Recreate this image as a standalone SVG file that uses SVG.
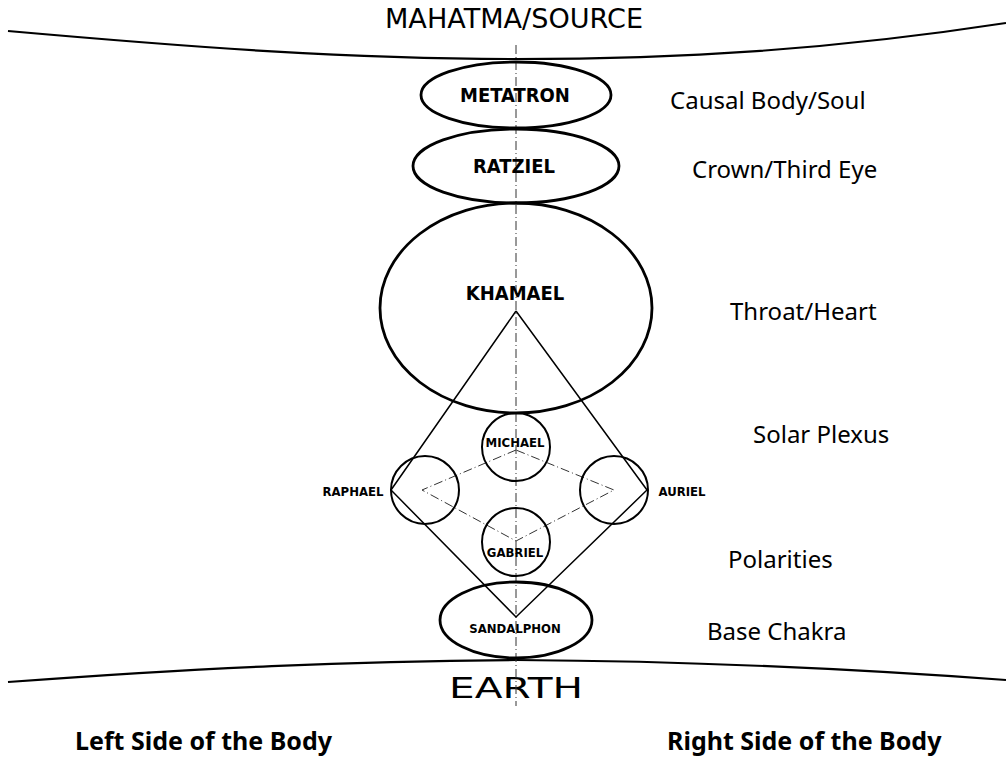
<svg xmlns="http://www.w3.org/2000/svg" width="1006" height="757" viewBox="0 0 1006 757">
<style>
.bg{fill:#fff}
.ell{fill:none;stroke:#000;stroke-width:2.8}
.cir{fill:none;stroke:#000;stroke-width:2}
.curve{fill:none;stroke:#000;stroke-width:2.2}
.edge{fill:none;stroke:#000;stroke-width:1.5}
.dd{fill:none;stroke:#333;stroke-width:1;stroke-dasharray:9 3 1 3}
.name{font-family:"DejaVu Sans Condensed","DejaVu Sans",sans-serif;font-weight:bold;fill:#000;text-anchor:middle}
.lbl{font-family:"Noto Sans","Liberation Sans",sans-serif;font-size:24px;fill:#000}
.big{font-family:"DejaVu Sans","Liberation Sans",sans-serif;fill:#000;text-anchor:middle}
.side{font-family:"Noto Sans","Liberation Sans",sans-serif;font-weight:bold;font-size:25px;fill:#000}
</style>
<rect class="bg" x="0" y="0" width="1006" height="757"/>
<g id="source">
<path class="curve" d="M8,31 C200,48 350,59 516,59 C680,59 830,50 1006,23"/>
<text class="big" x="514" y="28" font-size="27" textLength="258" lengthAdjust="spacingAndGlyphs">MAHATMA/SOURCE</text>
</g>
<g id="earth">
<path class="curve" d="M8,682 C200,668 350,661 516,660 C680,661 830,667 1006,680"/>
<text class="big" x="516" y="698" font-size="29" textLength="134" lengthAdjust="spacingAndGlyphs">EARTH</text>
</g>
<g id="connectors">
<line class="dd" x1="516" y1="45" x2="516" y2="706"/>
<polyline class="edge" points="516,311 391,490 516,617 647,490 516,311"/>
<polygon class="dd" points="516,450 422,490 516,541 614,490"/>
</g>
<g id="metatron">
<ellipse class="ell" cx="516" cy="95" rx="95" ry="33"/>
<text class="name" x="515" y="102" font-size="20">METATRON</text>
</g>
<g id="ratziel">
<ellipse class="ell" cx="516" cy="166" rx="103" ry="37"/>
<text class="name" x="514" y="173" font-size="20">RATZIEL</text>
</g>
<g id="khamael">
<ellipse class="ell" cx="516" cy="308" rx="136" ry="105"/>
<text class="name" x="515" y="300" font-size="20">KHAMAEL</text>
</g>
<g id="michael">
<circle class="cir" cx="516" cy="447" r="34"/>
<text class="name" x="515" y="447" font-size="13">MICHAEL</text>
</g>
<g id="raphael">
<circle class="cir" cx="425" cy="490" r="34"/>
<text class="name" x="353" y="496" font-size="13">RAPHAEL</text>
</g>
<g id="auriel">
<circle class="cir" cx="614" cy="490" r="34"/>
<text class="name" x="682" y="496" font-size="13">AURIEL</text>
</g>
<g id="gabriel">
<circle class="cir" cx="516" cy="542" r="34"/>
<text class="name" x="515" y="557" font-size="13">GABRIEL</text>
</g>
<g id="sandalphon">
<ellipse class="ell" cx="516" cy="620" rx="76" ry="38"/>
<text class="name" x="515" y="633" font-size="13">SANDALPHON</text>
</g>
<g id="labels">
<text class="lbl" x="670" y="109">Causal Body/Soul</text>
<text class="lbl" x="692" y="178">Crown/Third Eye</text>
<text class="lbl" x="730" y="320">Throat/Heart</text>
<text class="lbl" x="753" y="443">Solar Plexus</text>
<text class="lbl" x="728" y="568">Polarities</text>
<text class="lbl" x="707" y="640">Base Chakra</text>
<text class="side" x="75" y="750">Left Side of the Body</text>
<text class="side" x="667" y="750">Right Side of the Body</text>
</g>
</svg>
